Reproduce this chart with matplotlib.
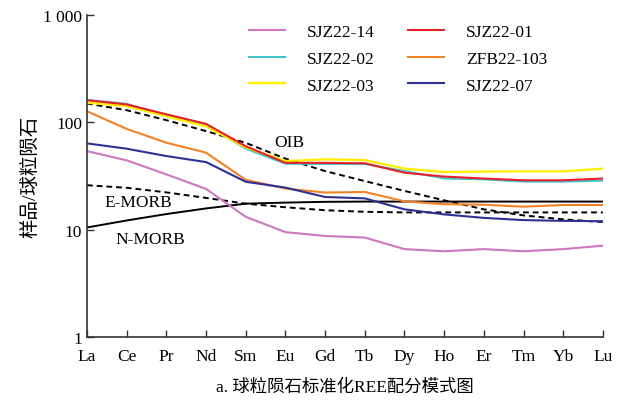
import numpy as np
import matplotlib as mpl
import matplotlib.pyplot as plt
mpl.use('Agg')

plt.rcParams['font.family'] = ['Liberation Serif', 'Noto Sans CJK SC']
plt.rcParams['axes.unicode_minus'] = False

elements = ['La', 'Ce', 'Pr', 'Nd', 'Sm', 'Eu', 'Gd', 'Tb', 'Dy', 'Ho', 'Er', 'Tm', 'Yb', 'Lu']

# 样品 (球粒陨石标准化值, 从图上读取)
sjz22_14 = [54, 44.3, 32.8, 24, 13.2, 9.5, 8.75, 8.46, 6.6, 6.3, 6.6, 6.3, 6.6, 7.1]
sjz22_01 = [161, 147, 119, 97, 60, 42, 42, 41.6, 34, 31.3, 30, 28.9, 28.9, 30]
sjz22_02 = [162, 149, 116, 95, 57, 41.3, 41, 41, 35.2, 30.1, 29.5, 28.1, 28.1, 28.7]
zfb22_103 = [127, 87, 64.7, 52.3, 29.2, 24.2, 22.2, 22.5, 18.4, 17.3, 17.1, 16.4, 17, 17]
sjz22_03 = [152.5, 142, 114, 92, 58.5, 43.6, 45.3, 44.6, 37.1, 34.5, 34.8, 35, 35, 37.1]
sjz22_07 = [63.8, 56.9, 48.6, 42.7, 28, 24.7, 20.2, 19.6, 15.5, 13.9, 12.9, 12.3, 12.1, 12]

# 参考值
oib = [150, 130, 105, 83, 64.5, 46, 35.2, 28.4, 23, 18.8, 15.5, 13.6, 12.5, 11.8]
e_morb = [26, 24.6, 22.3, 19.8, 17.5, 16.2, 15.2, 14.7, 14.5, 14.5, 14.5, 14.5, 14.5, 14.5]
n_morb = [10.5, 12.2, 14.0, 15.8, 17.5, 17.9, 18.2, 18.3, 18.3, 18.3, 18.3, 18.3, 18.3, 18.3]

x = np.arange(len(elements))

fig = plt.figure(figsize=(6.28, 4.02), dpi=100)
ax = fig.add_axes([0.1385, 0.159, 0.8215, 0.801])

ax.plot(x, oib, color='black', lw=1.4, ls=(0, (3, 2)))
ax.plot(x, e_morb, color='black', lw=1.4, ls=(0, (3, 2)))
ax.plot(x, n_morb, color='black', lw=1.4)

ax.plot(x, sjz22_14, color='#CC77C0', lw=1.5, label='SJZ22-14')
ax.plot(x, sjz22_02, color='#3EC3CC', lw=1.5, label='SJZ22-02')
ax.plot(x, sjz22_03, color='#FFEE00', lw=1.7, label='SJZ22-03')
ax.plot(x, zfb22_103, color='#F28226', lw=1.5, label='ZFB22-103')
ax.plot(x, sjz22_01, color='#E8202A', lw=1.5, label='SJZ22-01')
ax.plot(x, sjz22_07, color='#2E3192', lw=1.5, label='SJZ22-07')

# 图例顺序: 按列填充
h, l = ax.get_legend_handles_labels()
order = [0, 1, 2, 4, 3, 5]
ax.legend([h[i] for i in order], [l[i] for i in order], ncol=2, frameon=False,
          loc='upper left', bbox_to_anchor=(0.283, 1.02), fontsize=12.5,
          handlelength=2.1, handletextpad=1.25, columnspacing=1.9, labelspacing=0.6)

ax.text(5.1, 65, 'OIB', fontsize=12.5, ha='center', va='center')
ax.text(1.3, 18, 'E-MORB', fontsize=12.5, ha='center', va='center')
ax.text(1.6, 8.2, 'N-MORB', fontsize=12.5, ha='center', va='center')

ax.set_yscale('log')
ax.set_ylim(1, 1000)
ax.set_xlim(0, 13)
ax.set_yticks([1, 10, 100, 1000])
ax.set_yticklabels(['1', '10', '100', '1 000'])
ax.yaxis.set_minor_locator(mpl.ticker.NullLocator())
ax.set_xticks(x)
ax.set_xticklabels(elements)
ax.tick_params(direction='in', labelsize=12.5, length=5, width=1, color='#333333')
ax.tick_params(axis='x', pad=8)

for s in ['top', 'right']:
    ax.spines[s].set_visible(False)
for s in ['left', 'bottom']:
    ax.spines[s].set_color('#333333')
    ax.spines[s].set_linewidth(1.2)

ax.set_ylabel('样品/球粒陨石', fontsize=14, labelpad=2)
ax.set_xlabel('a. 球粒陨石标准化REE配分模式图', fontsize=12.5, labelpad=10)

fig.savefig('out.png', dpi=100)
